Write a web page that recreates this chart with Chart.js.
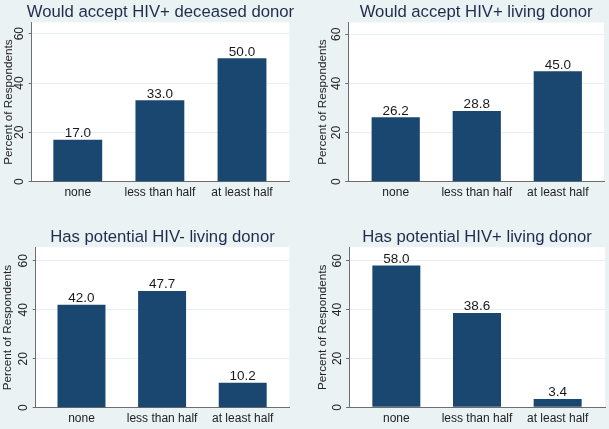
<!DOCTYPE html>
<html><head><meta charset="utf-8">
<script src="https://cdn.jsdelivr.net/npm/chart.js@4.4.1/dist/chart.umd.min.js"></script>
<style>
html,body{margin:0;padding:0;width:609px;height:429px;overflow:hidden;background:#eaf2f3;}
.panel{position:absolute;}
canvas{display:block;}
</style></head><body>
<div class="panel" style="left:0px;top:0px"><canvas id="c0" width="304" height="214" style="width:304px;height:214px"></canvas></div>
<div class="panel" style="left:304px;top:0px"><canvas id="c1" width="305" height="214" style="width:305px;height:214px"></canvas></div>
<div class="panel" style="left:0px;top:214px"><canvas id="c2" width="304" height="215" style="width:304px;height:215px"></canvas></div>
<div class="panel" style="left:304px;top:214px"><canvas id="c3" width="305" height="215" style="width:305px;height:215px"></canvas></div>
<script>
// ---- data ----
const categories = ['none', 'less than half', 'at least half'];
const panelTitles = ['Would accept HIV+ deceased donor', 'Would accept HIV+ living donor', 'Has potential HIV- living donor', 'Has potential HIV+ living donor'];
const acceptDeceased = [17.0, 33.0, 50.0];
const acceptLiving = [26.2, 28.8, 45.0];
const hivNegLiving = [42.0, 47.7, 10.2];
const hivPosLiving = [58.0, 38.6, 3.4];
const yTickValues = [0, 20, 40, 60];
const yAxisTitle = 'Percent of Respondents';
const seriesList = [acceptDeceased, acceptLiving, hivNegLiving, hivPosLiving];

// ---- layout (per panel, local pixel coords) ----
const layouts = [
  {id:'c0', w:304, h:214, L:31.7, R:289.3, T:22.3, B:181.7, ymax:64.6, xmin:-0.561, xmax:2.576, titleY:16.7, yTitlePad:1.3},
  {id:'c1', w:305, h:214, L:44.3, R:300.0, T:22.5, B:181.7, ymax:64.8, xmin:-0.585, xmax:2.570, titleY:16.7, yTitlePad:11.3},
  {id:'c2', w:304, h:215, L:35.7, R:289.3, T:33.3, B:193.7, ymax:65.5, xmin:-0.568, xmax:2.578, titleY:28.3, yTitlePad:0.8},
  {id:'c3', w:305, h:215, L:45.0, R:301.0, T:33.3, B:193.3, ymax:65.5, xmin:-0.587, xmax:2.587, titleY:28.3, yTitlePad:11.3}
];

const FONT = "'Liberation Sans', Arial, Helvetica, sans-serif";
Chart.defaults.font.family = FONT;
Chart.defaults.color = '#222';

const BAR = '#1a476f';
const AXIS = '#6e6e6e';
const GRID = '#e6eff1';

const plotBg = {
  id: 'plotBg',
  beforeDraw(chart) {
    const {ctx, chartArea: a} = chart;
    ctx.save();
    ctx.fillStyle = '#ffffff';
    ctx.fillRect(a.left, a.top, a.right - a.left, a.bottom - a.top);
    ctx.restore();
  }
};

const panelText = {
  id: 'panelText',
  afterDatasetsDraw(chart, args, opts) {
    const {ctx, chartArea: a} = chart;
    ctx.save();
    // value labels
    ctx.font = '13.5px ' + FONT;
    ctx.fillStyle = '#1a1a1a';
    ctx.textAlign = 'center';
    ctx.textBaseline = 'alphabetic';
    const meta = chart.getDatasetMeta(0);
    const ds = chart.data.datasets[0].data;
    meta.data.forEach((el, i) => {
      ctx.fillText(ds[i].y.toFixed(1), el.x, el.y - 2.6);
    });
    // panel title
    ctx.font = '16.7px ' + FONT;
    ctx.fillStyle = '#1e2d4e';
    ctx.fillText(opts.text, (a.left + a.right) / 2, opts.y);
    ctx.restore();
  }
};

layouts.forEach((lay, p) => {
  const values = seriesList[p];
  new Chart(document.getElementById(lay.id), {
    type: 'bar',
    data: {
      datasets: [{
        data: values.map((v, i) => ({x: i, y: v})),
        backgroundColor: BAR,
        borderWidth: 0,
        barPercentage: 0.595,
        categoryPercentage: 1
      }]
    },
    options: {
      responsive: false,
      animation: false,
      devicePixelRatio: 1,
      layout: {padding: {left: 0, right: lay.w - lay.R, top: lay.T, bottom: 0}},
      plugins: {
        legend: {display: false},
        tooltip: {enabled: false},
        panelText: {text: panelTitles[p], y: lay.titleY}
      },
      scales: {
        x: {
          type: 'linear',
          min: lay.xmin,
          max: lay.xmax,
          offset: false,
          afterBuildTicks: s => { s.ticks = categories.map((c, i) => ({value: i})); },
          afterFit: s => { s.height = lay.h - lay.B; },
          grid: {display: true, drawOnChartArea: false, drawTicks: false},
          border: {display: true, color: AXIS, width: 1},
          ticks: {
            autoSkip: false, maxRotation: 0, minRotation: 0, padding: 4,
            font: {size: 12}, color: '#222',
            callback: v => categories[v]
          }
        },
        y: {
          type: 'linear',
          min: 0,
          max: lay.ymax,
          afterBuildTicks: s => { s.ticks = yTickValues.map(v => ({value: v})); },
          afterFit: s => { s.width = lay.L; },
          grid: {
            color: c => (c.tick && c.tick.value === 0) ? 'rgba(0,0,0,0)' : GRID,
            lineWidth: 1,
            tickLength: 3,
            tickColor: AXIS
          },
          border: {display: true, color: AXIS, width: 1},
          ticks: {
            minRotation: 90, maxRotation: 90, crossAlign: 'center', padding: 2,
            font: {size: 12}, color: '#222'
          },
          title: {
            display: true, text: yAxisTitle, color: '#222',
            font: {size: 11.7}, padding: {top: lay.yTitlePad, bottom: 0}
          }
        }
      }
    },
    plugins: [plotBg, panelText]
  });
});
</script>
</body></html>
